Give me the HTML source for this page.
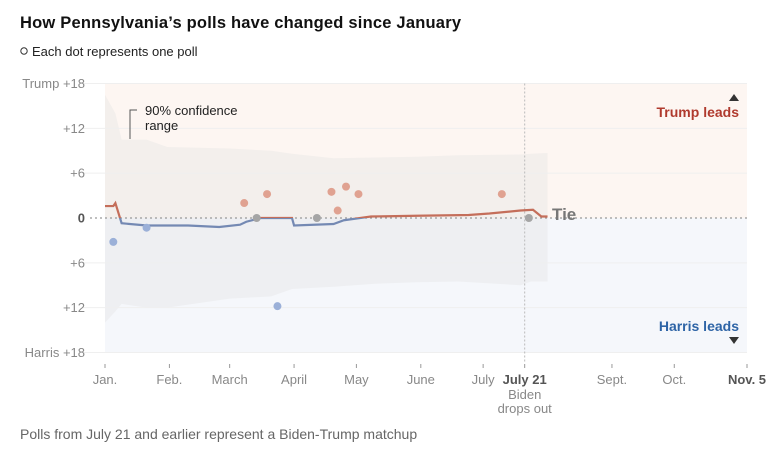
<!DOCTYPE html>
<html><head><meta charset="utf-8"><style>
html,body{margin:0;padding:0;background:#fff;}
svg{display:block;font-family:"Liberation Sans",sans-serif;}
</style></head><body>
<svg id="chart" width="777" height="461" viewBox="0 0 777 461">
<text x="20" y="28" font-size="16.5" font-weight="bold" fill="#111" textLength="441">How Pennsylvania’s polls have changed since January</text>
<circle cx="24" cy="51" r="3.2" fill="none" stroke="#333" stroke-width="1"/>
<text x="32" y="56" font-size="13" fill="#222">Each dot represents one poll</text>
<g id="plot"></g>
<text x="20" y="439" font-size="14" fill="#666">Polls from July 21 and earlier represent a Biden-Trump matchup</text>
</svg>
<script>
const lineDays=[0,4,5,8,20,40,55,65,68,75,90,91,110,115,128,150,175,185,200,206,210,213];
const lineVals=[1.6,1.6,2,-0.7,-1,-1,-1.2,-0.9,-0.5,0,0,-1,-0.8,-0.3,0.2,0.3,0.4,0.6,1.0,1.1,0.2,0.2];
const bandDays=[0,5,8,20,30,60,80,90,110,130,150,170,200,205,213];
const bandUpper=[16.5,14,10.5,10.5,9.5,9.3,9,8.6,8,8.1,8.2,8.4,8.5,8.6,8.7];
const bandLower=[-14,-12.5,-11.5,-12,-12,-10.8,-10.5,-9.5,-9.2,-8.8,-8.6,-8.5,-9,-8.5,-8.5];
const pollDays=[4,20,67,78,73,83,102,109,112,116,122,191,204];
const pollVals=[-3.2,-1.3,2,3.2,0,-11.8,0,3.5,1,4.2,3.2,3.2,0];
const yTicks=[18,12,6,0,-6,-12,-18];
const yLabels=["Trump +18","+12","+6","0","+6","+12","Harris +18"];
const xTickDays=[0,31,60,91,121,152,182,202,244,274,309];
const xLabels=["Jan.","Feb.","March","April","May","June","July","July 21","Sept.","Oct.","Nov. 5"];

const NS="http://www.w3.org/2000/svg";
const X0=105,X1=747,Y0=218,PPU=7.47,DAYS=309;
const xs=d=>X0+(X1-X0)*d/DAYS;
const ys=v=>Y0-v*PPU;
const g=document.getElementById('plot');
function mk(t,a,p){const e=document.createElementNS(NS,t);for(const k in a)e.setAttribute(k,a[k]);(p||g).appendChild(e);return e;}

let e;
e=mk('rect',{x:X0,y:ys(18),width:X1-X0,height:Y0-ys(18),fill:'#fdf6f2'});


e=mk('rect',{x:X0,y:Y0,width:X1-X0,height:ys(-18)-Y0,fill:'#f5f7fb'});


let d='M'+bandDays.map((t,i)=>xs(t)+','+ys(bandUpper[i])).join('L');
for(let i=bandDays.length-1;i>=0;i--)d+='L'+xs(bandDays[i])+','+ys(bandLower[i]);
e=mk('path',{d:d+'Z',fill:'#e4e4e4','fill-opacity':0.42});


yTicks.forEach((v,i)=>{
  if(v!==0){const l=mk('line',{x1:82,x2:X1,y1:ys(v),y2:ys(v),stroke:'#efefef','stroke-width':1});
  
  }
  const t=mk('text',{x:85,y:ys(v)+4.5,'text-anchor':'end','font-size':13,fill:v===0?'#555':'#888','font-weight':v===0?'bold':'normal'});
  t.textContent=yLabels[i];
  
  
});
e=mk('line',{x1:90,x2:X1,y1:Y0,y2:Y0,stroke:'#999','stroke-dasharray':'2,3','stroke-width':1.3});


e=mk('line',{x1:xs(202),x2:xs(202),y1:ys(18),y2:362,stroke:'#bbb','stroke-dasharray':'2,2'});


const defs=mk('defs',{});
const c1=mk('clipPath',{id:'above'},defs);mk('rect',{x:0,y:0,width:777,height:Y0},c1);
const c2=mk('clipPath',{id:'below'},defs);mk('rect',{x:0,y:Y0,width:777,height:300},c2);
const ld='M'+lineDays.map((t,i)=>xs(t)+','+ys(lineVals[i])).join('L');
e=mk('path',{d:ld,fill:'none',stroke:'#c46e5a','stroke-width':2.2,'clip-path':'url(#above)'});


e=mk('path',{d:ld,fill:'none',stroke:'#7489b3','stroke-width':2.2,'clip-path':'url(#below)'});


pollDays.forEach((t,i)=>{
  const v=pollVals[i];
  const c=mk('circle',{cx:xs(t),cy:ys(v),r:4,fill:v>0?'#e0a291':v<0?'#9bb0d8':'#a5a5a5'});
  
  
});
xTickDays.forEach((t,i)=>{
  const l=mk('line',{x1:xs(t),x2:xs(t),y1:364,y2:368,stroke:'#999'});
  
  
  const b=(i===7||i===10);
  const tx=mk('text',{x:xs(t),y:384,'text-anchor':'middle','font-size':13,fill:b?'#555':'#888','font-weight':b?'bold':'normal'});
  tx.textContent=xLabels[i];
  
  
});
function txt(s,a,name){const t=mk('text',a);t.textContent=s;return t;}
txt('Biden',{x:xs(202),y:399,'text-anchor':'middle','font-size':13,fill:'#888'},'biden-note');
txt('drops out',{x:xs(202),y:413,'text-anchor':'middle','font-size':13,fill:'#888'},'biden-note');
txt('Tie',{x:552,y:220,'font-size':17,'font-weight':'bold',fill:'#777'},'tie-label');
txt('Trump leads',{x:739,y:117,'text-anchor':'end','font-size':14,'font-weight':'bold',fill:'#b03a2e'},'trump-leads-label');
txt('Harris leads',{x:739,y:331,'text-anchor':'end','font-size':14,'font-weight':'bold',fill:'#2e64a6'},'harris-leads-label');
e=mk('path',{d:'M729,101L739,101L734,94Z',fill:'#333'});


e=mk('path',{d:'M729,337L739,337L734,344Z',fill:'#333'});


e=mk('path',{d:'M130,139L130,110L137,110',fill:'none',stroke:'#555','stroke-width':1});


txt('90% confidence',{x:145,y:115,'font-size':13,fill:'#222'},'confidence-annotation');
txt('range',{x:145,y:130,'font-size':13,fill:'#222'},'confidence-annotation');
</script>
</body></html>
